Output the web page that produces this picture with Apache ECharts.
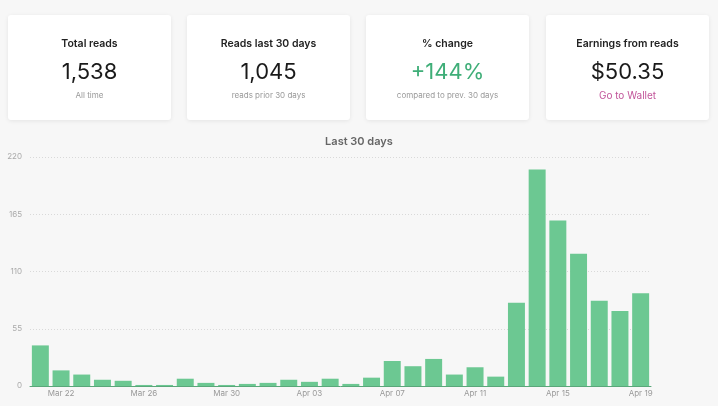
<!DOCTYPE html>
<html>
<head>
<meta charset="utf-8">
<script src="https://cdn.jsdelivr.net/npm/echarts@6/dist/echarts.min.js"></script>
<style>
  html, body { margin: 0; padding: 0; background: #f7f7f7; }
  #chart { width: 718px; height: 406px; }
</style>
</head>
<body>
<div id="chart"></div>
<script>
const categories = ['Mar 21','Mar 22','Mar 23','Mar 24','Mar 25','Mar 26','Mar 27','Mar 28','Mar 29','Mar 30','Mar 31',
  'Apr 01','Apr 02','Apr 03','Apr 04','Apr 05','Apr 06','Apr 07','Apr 08','Apr 09','Apr 10','Apr 11','Apr 12','Apr 13',
  'Apr 14','Apr 15','Apr 16','Apr 17','Apr 18','Apr 19'];
const reads = [39, 15, 11, 6, 5, 1, 1, 7, 3, 1, 2, 3, 6, 4, 7, 2, 8, 24, 19, 26, 11, 18, 9, 80, 208, 159, 127, 82, 72, 89];
const cardTitles = ['Total reads', 'Reads last 30 days', '% change', 'Earnings from reads'];
const cardValues = ['1,538', '1,045', '+144%', '$50.35'];
const cardSubs = ['All time', 'reads prior 30 days', 'compared to prev. 30 days', 'Go to Wallet'];
const chartTitle = 'Last 30 days';

const chart = echarts.init(document.getElementById('chart'), null, { renderer: 'canvas' });

const cardX = [8, 187, 366, 546];
const cardW = 163;
const graphics = [];
cardX.forEach((x, i) => {
  const cx = x + cardW / 2;
  graphics.push({
    type: 'rect', shape: { x: x, y: 15, width: cardW, height: 105, r: 3 },
    style: { fill: '#ffffff', shadowBlur: 4, shadowColor: 'rgba(0,0,0,0.08)', shadowOffsetY: 1 }
  });
  graphics.push({
    type: 'text', x: cx, y: 44,
    style: { text: cardTitles[i], textAlign: 'center', textVerticalAlign: 'middle',
      font: '600 10.5px Inter, "Noto Sans", sans-serif', fill: '#222' }
  });
  graphics.push({
    type: 'text', x: cx, y: 72,
    style: { text: cardValues[i], textAlign: 'center', textVerticalAlign: 'middle',
      font: '400 22px Inter, "Noto Sans", sans-serif', fill: i === 2 ? '#3fae78' : '#1a1a1a' }
  });
  graphics.push({
    type: 'text', x: cx, y: 96,
    style: { text: cardSubs[i], textAlign: 'center', textVerticalAlign: 'middle',
      font: i === 3 ? '400 10px Inter, "Noto Sans", sans-serif' : '400 8px Inter, "Noto Sans", sans-serif',
      fill: i === 3 ? '#c2559a' : '#999' }
  });
});

chart.setOption({
  backgroundColor: '#f7f7f7',
  animation: false,
  title: {
    text: chartTitle, left: 'center', top: 131,
    textStyle: { fontSize: 11, fontWeight: 600, color: '#666', fontFamily: 'Inter, "Noto Sans", sans-serif' }
  },
  graphic: graphics,
  grid: { left: 30, right: 67, top: 157, bottom: 20, containLabel: false },
  xAxis: {
    type: 'category', data: categories,
    axisLine: { lineStyle: { color: '#5aa77a', width: 1 } },
    axisTick: { show: false },
    axisLabel: {
      interval: (idx) => idx % 4 === 1,
      color: '#999', fontSize: 8, margin: 4, fontFamily: 'Inter, "Noto Sans", sans-serif'
    }
  },
  yAxis: {
    type: 'value', min: 0, max: 220, interval: 55,
    axisLine: { show: false }, axisTick: { show: false },
    axisLabel: { color: '#aaa', fontSize: 8, margin: 8, fontFamily: 'Inter, "Noto Sans", sans-serif' },
    splitLine: { lineStyle: { color: '#d9d9d9', type: [1, 2] } }
  },
  series: [{
    type: 'bar', data: reads, barCategoryGap: '18%',
    itemStyle: { color: '#6cc892' }
  }]
});
</script>
</body>
</html>
